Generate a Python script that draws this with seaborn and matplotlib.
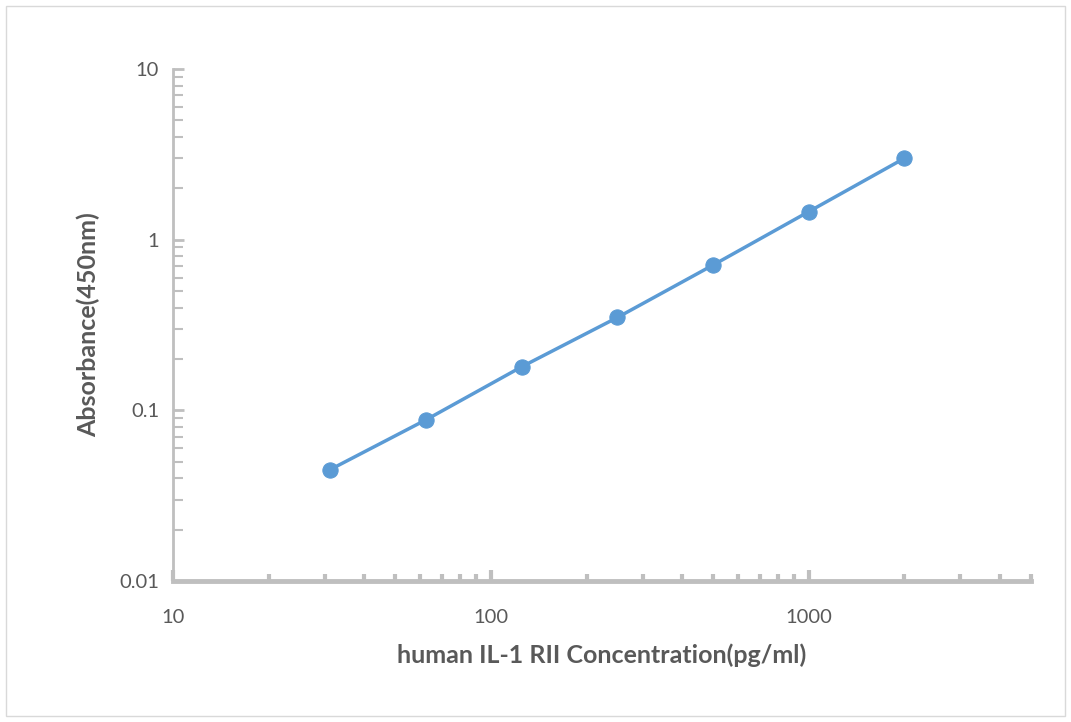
import matplotlib
matplotlib.use("Agg")
import matplotlib.pyplot as plt
import seaborn as sns
import pandas as pd
import numpy as np
from matplotlib.ticker import LogLocator, FixedLocator, NullFormatter
from matplotlib.patches import Rectangle

concentration = [31.25, 62.5, 125, 250, 500, 1000, 2000]
absorbance = [0.045, 0.088, 0.18, 0.35, 0.71, 1.46, 3.0]
x_ticks = [10, 100, 1000]
x_tick_labels = ["10", "100", "1000"]
y_ticks = [0.01, 0.1, 1, 10]
y_tick_labels = ["0.01", "0.1", "1", "10"]

sns.set_theme(style="white")
plt.rcParams['font.family'] = ['Lato', 'DejaVu Sans']

df = pd.DataFrame({"conc": concentration, "abs": absorbance})

fig = plt.figure(figsize=(10.71, 7.22), dpi=100)
ax = fig.add_axes([173/1071, 1 - 581/722, (1031-173)/1071, (581-69)/722])

sns.lineplot(data=df, x="conc", y="abs", ax=ax, color="#5B9BD5", linewidth=2.5,
             marker="o", markersize=11, markeredgecolor="#5B9BD5", markerfacecolor="#5B9BD5")

ax.set_xscale("log")
ax.set_yscale("log")
ax.set_xlim(10, 5000)
ax.set_ylim(0.01, 10)

grey = "#BFBFBF"
txt = "#595959"
for s in ["top", "right"]:
    ax.spines[s].set_visible(False)
ax.spines["bottom"].set_color(grey)
ax.spines["bottom"].set_linewidth(3.5)
ax.spines["left"].set_color(grey)
ax.spines["left"].set_linewidth(2)

ax.xaxis.set_major_locator(FixedLocator(x_ticks))
ax.set_xticklabels(x_tick_labels)
ax.yaxis.set_major_locator(FixedLocator(y_ticks))
ax.set_yticklabels(y_tick_labels)
ax.xaxis.set_minor_locator(LogLocator(base=10, subs=np.arange(2, 10)))
ax.yaxis.set_minor_locator(LogLocator(base=10, subs=np.arange(2, 10)))
ax.xaxis.set_minor_formatter(NullFormatter())
ax.yaxis.set_minor_formatter(NullFormatter())

ax.tick_params(axis="x", which="major", direction="in", length=8, width=3, color=grey,
               labelsize=14.5, labelcolor=txt, pad=20, bottom=True)
ax.tick_params(axis="x", which="minor", direction="in", length=5, width=3, color=grey, bottom=True)
ax.tick_params(axis="y", which="major", direction="in", length=8, width=2, color=grey,
               labelsize=14.5, labelcolor=txt, pad=10, left=True)
ax.tick_params(axis="y", which="minor", direction="in", length=7, width=1.5, color=grey, left=True)

ax.set_xlabel("human IL-1 RII Concentration(pg/ml)", fontsize=18, fontweight="bold", color=txt, labelpad=13)
ax.set_ylabel("Absorbance(450nm)", fontsize=18, fontweight="bold", color=txt, labelpad=14)
ax.grid(False)

fig.patches.append(Rectangle((6/1071, 6/722), 1 - 12/1071, 1 - 12/722, transform=fig.transFigure,
                             fill=False, edgecolor="#D9D9D9", linewidth=1))

fig.savefig("out.png", dpi=100)
